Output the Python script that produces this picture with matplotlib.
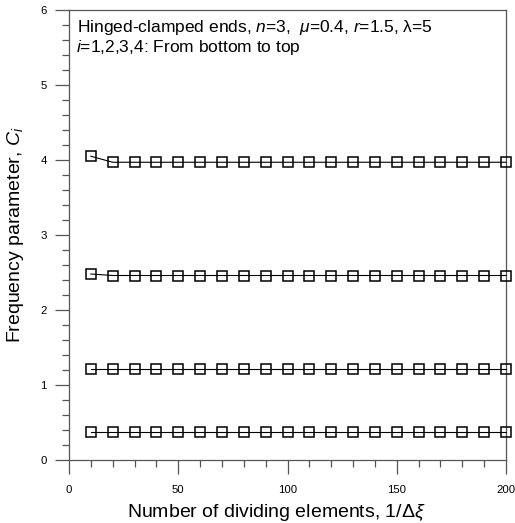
import numpy as np
import matplotlib
matplotlib.use("Agg")
import matplotlib.pyplot as plt
from matplotlib import ticker

plt.rcParams['font.family'] = ['Liberation Sans', 'DejaVu Sans']
plt.rcParams['mathtext.fontset'] = 'custom'
plt.rcParams['mathtext.rm'] = 'Liberation Sans'
plt.rcParams['mathtext.it'] = 'Liberation Sans:italic'

# Dane
n_elem = [10, 20, 30, 40, 50, 60, 70, 80, 90, 100,
          110, 120, 130, 140, 150, 160, 170, 180, 190, 200]
c1 = [0.38, 0.38, 0.38, 0.38, 0.38, 0.38, 0.38, 0.38, 0.38, 0.38,
      0.38, 0.38, 0.38, 0.38, 0.38, 0.38, 0.38, 0.38, 0.38, 0.38]
c2 = [1.22, 1.22, 1.22, 1.22, 1.22, 1.22, 1.22, 1.22, 1.22, 1.22,
      1.22, 1.22, 1.22, 1.22, 1.22, 1.22, 1.22, 1.22, 1.22, 1.22]
c3 = [2.48, 2.46, 2.46, 2.46, 2.46, 2.46, 2.46, 2.46, 2.46, 2.46,
      2.46, 2.46, 2.46, 2.46, 2.46, 2.46, 2.46, 2.46, 2.46, 2.46]
c4 = [4.05, 3.97, 3.97, 3.97, 3.97, 3.97, 3.97, 3.97, 3.97, 3.97,
      3.97, 3.97, 3.97, 3.97, 3.97, 3.97, 3.97, 3.97, 3.97, 3.97]
serie = [c1, c2, c3, c4]

fig = plt.figure(figsize=(5.15, 5.23), dpi=100)
ax = fig.add_axes([69/515, 1-460/523, 437/515, 450/523])

for c in serie:
    ax.plot(n_elem, c, color='black', lw=0.8, marker='s', ms=6.8,
            mfc='none', mec='black', mew=1.1, clip_on=False, zorder=3)

ax.set_xlim(0, 200)
ax.set_ylim(0, 6)
ax.xaxis.set_major_locator(ticker.MultipleLocator(50))
ax.xaxis.set_minor_locator(ticker.MultipleLocator(10))
ax.yaxis.set_major_locator(ticker.MultipleLocator(1))
ax.yaxis.set_minor_locator(ticker.MultipleLocator(0.2))

szary = '#555555'
for s in ax.spines.values():
    s.set_color(szary)
    s.set_linewidth(0.9)
ax.tick_params(which='both', direction='out', color=szary, width=0.9,
               top=False, right=False, labelsize=8.2)
ax.tick_params(which='major', length=10)
ax.tick_params(which='minor', length=5)
ax.tick_params(axis='x', which='major', pad=8)
ax.tick_params(axis='y', which='major', pad=6)

ax.set_xlabel(r'Number of dividing elements, 1/$\Delta\xi$', fontsize=14)
ax.set_ylabel(r'Frequency parameter, $C_i$', fontsize=14)
ax.xaxis.set_label_coords((276.5-69)/437, -(502-460)/450)
ax.yaxis.set_label_coords(-(69-26)/437, 0.5)

ax.text((77-69)/437, 1-8/450, r'Hinged-clamped ends, $n$=3,  $\mu$=0.4, $r$=1.5, λ=5',
        transform=ax.transAxes, fontsize=12.5, va='top', ha='left')
ax.text((76-69)/437, 1-28/450, r'$i$=1,2,3,4: From bottom to top',
        transform=ax.transAxes, fontsize=12.5, va='top', ha='left')

plt.savefig('out.png', dpi=100)
